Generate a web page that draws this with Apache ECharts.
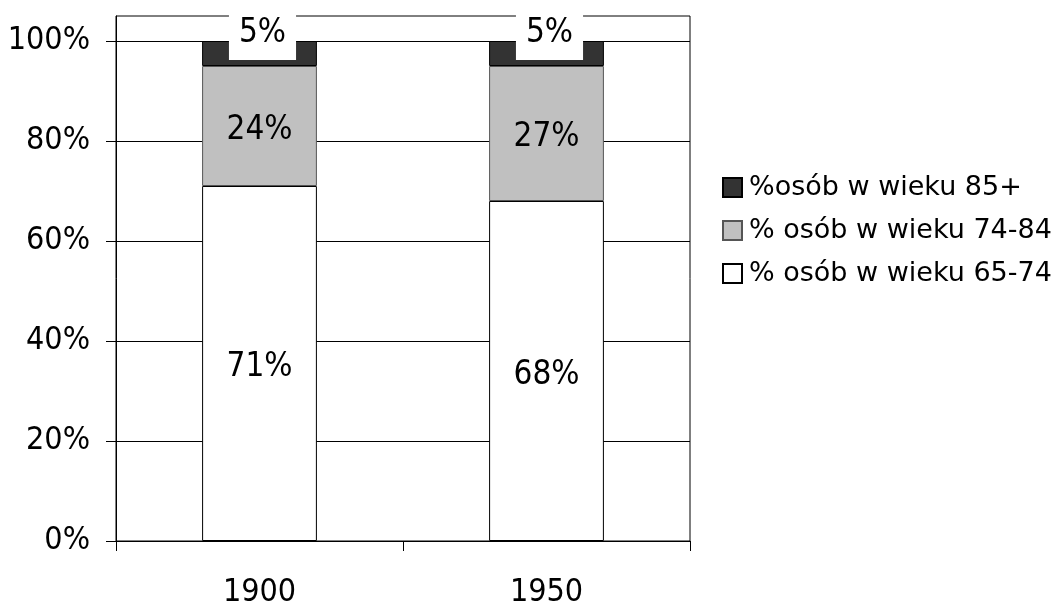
<!DOCTYPE html>
<html>
<head>
<meta charset="utf-8">
<script src="https://cdn.jsdelivr.net/npm/echarts@6/dist/echarts.min.js"></script>
<style>
  html, body { margin: 0; padding: 0; background: #fff; }
  #chart { width: 1063px; height: 603px; }
</style>
</head>
<body>
<div id="chart"></div>
<script>
// Age structure of the population aged 65+ (percent shares)
const years = ['1900', '1950'];
const share65to74 = [71, 68];
const share74to84 = [24, 27];
const share85plus = [5, 5];
const yTicks = [0, 20, 40, 60, 80, 100];

const seriesNames = {
  young: '% osób w wieku 65-74',
  middle: '% osób w wieku 74-84',
  old: '%osób w wieku 85+'
};

const FONT = "'DejaVu Sans Condensed', 'DejaVu Sans', sans-serif";
const LEGEND_FONT = "'DejaVu Sans', sans-serif";
const INK = '#000';

const chart = echarts.init(document.getElementById('chart'), null, { renderer: 'canvas' });

const baseLabel = {
  show: true,
  position: 'inside',
  formatter: '{c}%',
  color: INK,
  fontFamily: FONT,
  fontSize: 33,
  lineHeight: 33,
  offset: [0, 4]
};

chart.setOption({
  animation: false,
  backgroundColor: '#fff',
  textStyle: { fontFamily: FONT },
  grid: {
    left: 116, right: 373, top: 16, bottom: 62,
    containLabel: false,
    outerBoundsMode: 'none',
    show: true, borderColor: INK, borderWidth: 1, backgroundColor: 'transparent'
  },
  legend: {
    orient: 'vertical',
    left: 722,
    top: 174,
    padding: 0,
    itemWidth: 19,
    itemHeight: 19,
    itemGap: 16,
    icon: 'rect',
    data: [seriesNames.old, seriesNames.middle, seriesNames.young],
    textStyle: { fontFamily: LEGEND_FONT, fontSize: 27, lineHeight: 27, color: INK, padding: [0, 0, 0, 2] }
  },
  xAxis: {
    type: 'category',
    data: years,
    axisLine: { lineStyle: { color: INK, width: 1 } },
    axisTick: { show: true, length: 10, lineStyle: { color: INK } },
    axisLabel: { color: INK, fontFamily: FONT, fontSize: 32, margin: 36 },
    splitLine: { show: false }
  },
  yAxis: {
    type: 'value',
    min: 0,
    max: 105,
    interval: 20,
    axisLine: { show: true, lineStyle: { color: INK, width: 1 } },
    axisTick: { show: true, length: 10, lineStyle: { color: INK }, customValues: yTicks },
    axisLabel: {
      color: INK, fontFamily: FONT, fontSize: 32, margin: 26,
      customValues: yTicks,
      formatter: v => v + '%'
    },
    splitLine: { show: true, lineStyle: { color: INK, width: 1 } }
  },
  series: [
    {
      name: seriesNames.young,
      type: 'bar',
      stack: 'age',
      barWidth: '40%',
      data: share65to74,
      itemStyle: { color: '#fff', borderColor: INK, borderWidth: 1 },
      label: baseLabel
    },
    {
      name: seriesNames.middle,
      type: 'bar',
      stack: 'age',
      barWidth: '40%',
      data: share74to84,
      itemStyle: { color: '#c0c0c0', borderColor: '#555', borderWidth: 1 },
      label: baseLabel
    },
    {
      name: seriesNames.old,
      type: 'bar',
      stack: 'age',
      barWidth: '40%',
      data: share85plus,
      itemStyle: { color: '#333', borderColor: INK, borderWidth: 1 },
      label: Object.assign({}, baseLabel, {
        backgroundColor: '#fff',
        padding: [0, 10, 20, 10],
        offset: [3, -20]
      })
    }
  ]
});
</script>
</body>
</html>
